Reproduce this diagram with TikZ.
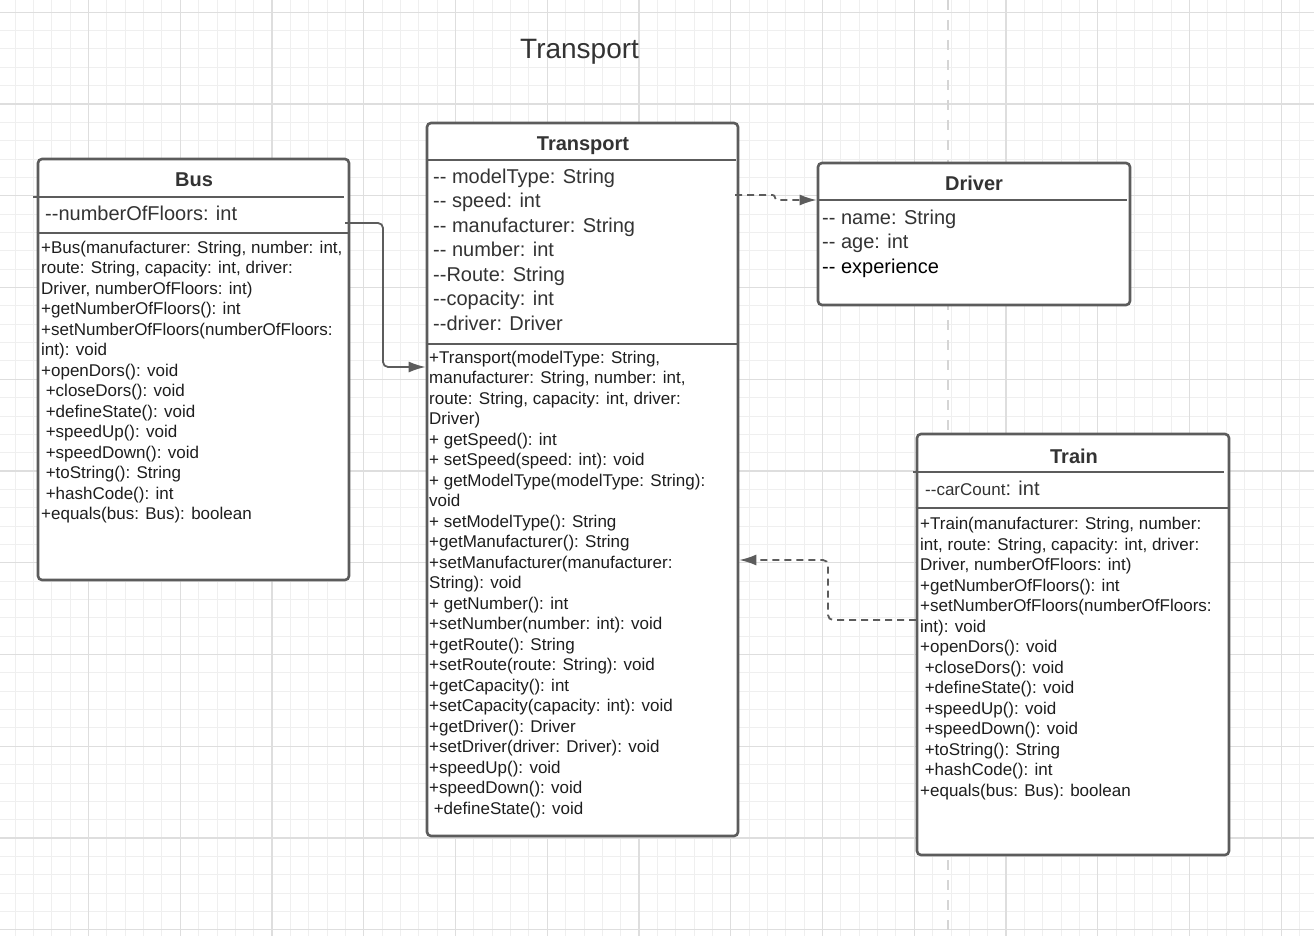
\documentclass[tikz,border=0pt]{standalone}
\usepackage{fontspec}
\setmainfont{Liberation Sans}[Ligatures=TeXOff]
\usetikzlibrary{arrows.meta}

\definecolor{gridminor}{HTML}{EFEFEF}
\definecolor{gridmajor}{HTML}{DEDEDE}
\definecolor{boxline}{HTML}{5C5C5C}
\definecolor{umltext}{HTML}{333333}
\definecolor{optext}{HTML}{1E1E1E}

\newcommand{\opindent}{\hspace*{4.6pt}}

\begin{document}
\begin{tikzpicture}[x=1pt,y=-1pt]
\path[use as bounding box] (0,0) rectangle (1314,936);

\tikzstyle{classbox}=[draw=boxline,line width=2.6pt,rounded corners=4pt,fill=white,inner sep=0pt]
\tikzstyle{sepline}=[draw=boxline,line width=2.4pt]
\tikzstyle{title}=[font=\bfseries\fontsize{20}{24}\selectfont,text=umltext,anchor=base,inner sep=0pt]
% multi-line texts sit on the baseline of their last line
\tikzstyle{attrs}=[font=\fontsize{20}{24.5}\selectfont,text=umltext,anchor=base west,align=left,inner sep=0pt]
\tikzstyle{ops}=[font=\fontsize{17}{20.5}\selectfont,text=optext,anchor=base west,align=left,inner sep=0pt]
\tikzstyle{conn}=[draw=boxline,line width=1.8pt,rounded corners=5pt,-{Latex[length=17pt,width=11pt]}]
\tikzstyle{dep}=[conn,dash pattern=on 7pt off 5pt]

% grid
\foreach \i in {0,...,72}
  \draw[gridminor,line width=1pt] ({-3.2+18.35*\i},0) -- ({-3.2+18.35*\i},936);
\foreach \i in {0,...,51}
  \draw[gridminor,line width=1pt] (0,{12.3+18.35*\i}) -- (1314,{12.3+18.35*\i});
\foreach \i in {0,...,14}
  \draw[gridmajor,line width=1.2pt] ({-3.2+91.75*\i},0) -- ({-3.2+91.75*\i},936);
\foreach \i in {0,...,10}
  \draw[gridmajor,line width=1.2pt] (0,{12.3+91.75*\i}) -- (1314,{12.3+91.75*\i});
\draw[gridmajor!90!gray,line width=2.6pt,dash pattern=on 10pt off 10pt] (948,0) -- (948,936);

\node[font=\fontsize{28}{32}\selectfont,text=umltext,anchor=base west,inner sep=0pt] (heading) at (520,59) {Transport};

% classes
\node[classbox,minimum width=311pt,minimum height=421pt] (bus) at (193.5,369.5) {};
\node[classbox,minimum width=311pt,minimum height=713pt] (transport) at (582.5,479.5) {};
\node[classbox,minimum width=312pt,minimum height=142pt] (driver) at (974,234) {};
\node[classbox,minimum width=312pt,minimum height=421pt] (train) at (1073,644.5) {};

\draw[sepline] (33,197) -- (344,197);
\draw[sepline] (bus.west |- 0,233) -- (bus.east |- 0,233);
\draw[sepline] (transport.west |- 0,160) -- (736,160);
\draw[sepline] (transport.west |- 0,344) -- (transport.east |- 0,344);
\draw[sepline] (driver.west |- 0,200) -- (1127,200);
\draw[sepline] (913,472) -- (1224,472);
\draw[sepline] (train.west |- 0,508) -- (train.east |- 0,508);

\node[title] (bustitle) at (194,187) {Bus};
\node[title] (transporttitle) at (583,151) {Transport};
\node[title] (drivertitle) at (974,191) {Driver};
\node[title] (traintitle) at (1074,463) {Train};

\node[attrs] (busattr) at (45,220) {--numberOfFloors: int};
\node[attrs] (transportattr) at (433,330) {-- modelType: String\\-- speed: int\\-- manufacturer: String\\-- number: int\\--Route: String\\--copacity: int\\--driver: Driver};
\node[attrs] (driverattr) at (822,273) {-- name: String\\-- age: int\\\textcolor{black}{-- experience}};
\node[attrs] (trainattr) at (925,495) {{\fontsize{17}{20}\selectfont --carCount}: int};

\node[ops] (busops) at (41,519.5) {+Bus(manufacturer: String, number: int,\\
route: String, capacity: int, driver:\\
Driver, numberOfFloors: int)\\
+getNumberOfFloors(): int\\
+setNumberOfFloors(numberOfFloors:\\
int): void\\
+openDors(): void\\
\opindent+closeDors(): void\\
\opindent+defineState(): void\\
\opindent+speedUp(): void\\
\opindent+speedDown(): void\\
\opindent+toString(): String\\
\opindent+hashCode(): int\\
+equals(bus: Bus): boolean};

\node[ops] (transportops) at (429,814) {+Transport(modelType: String,\\
manufacturer: String, number: int,\\
route: String, capacity: int, driver:\\
Driver)\\
+ getSpeed(): int\\
+ setSpeed(speed: int): void\\
+ getModelType(modelType: String):\\
void\\
+ setModelType(): String\\
+getManufacturer(): String\\
+setManufacturer(manufacturer:\\
String): void\\
+ getNumber(): int\\
+setNumber(number: int): void\\
+getRoute(): String\\
+setRoute(route: String): void\\
+getCapacity(): int\\
+setCapacity(capacity: int): void\\
+getDriver(): Driver\\
+setDriver(driver: Driver): void\\
+speedUp(): void\\
+speedDown(): void\\
\opindent+defineState(): void};

\node[ops] (trainops) at (920,796) {+Train(manufacturer: String, number:\\
int, route: String, capacity: int, driver:\\
Driver, numberOfFloors: int)\\
+getNumberOfFloors(): int\\
+setNumberOfFloors(numberOfFloors:\\
int): void\\
+openDors(): void\\
\opindent+closeDors(): void\\
\opindent+defineState(): void\\
\opindent+speedUp(): void\\
\opindent+speedDown(): void\\
\opindent+toString(): String\\
\opindent+hashCode(): int\\
+equals(bus: Bus): boolean};

% relations
\coordinate (busout) at (345,223);
\coordinate (transportout) at (735,195);
\coordinate (trainout) at (916,620);

\draw[conn] (busout) -- (383,223) -- (383,367) -- (transport.west |- 0,367);
\draw[dep,rounded corners=2.5pt] (transportout) -- (775,195) -- (775,200) -- (driver.west |- 0,200);
\draw[dep] (trainout) -- (828,620) -- (828,560) -- (transport.east |- 0,560);
\end{tikzpicture}
\end{document}
